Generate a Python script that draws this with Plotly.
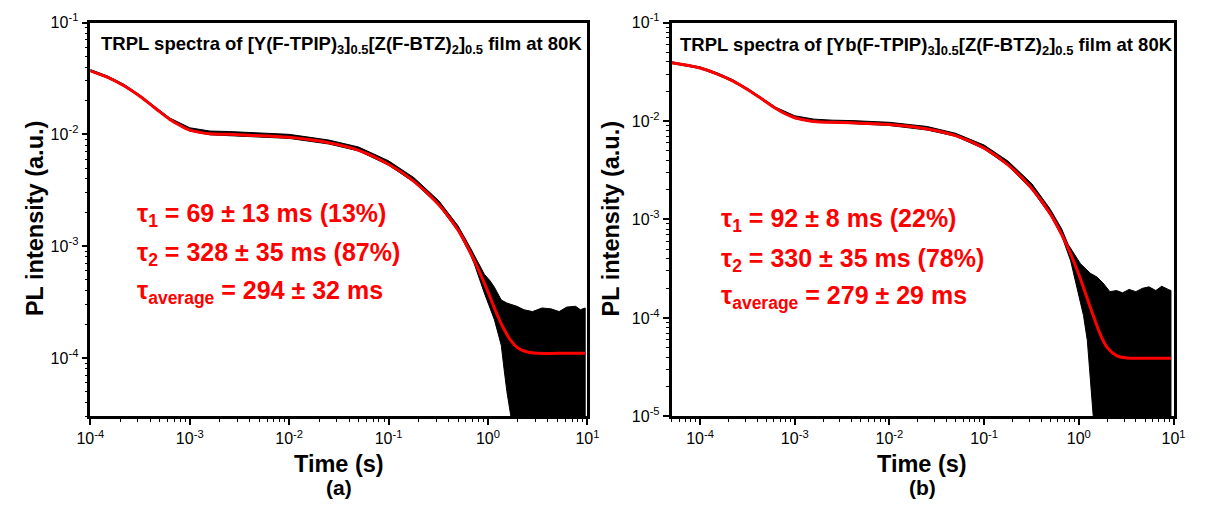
import plotly.graph_objects as go
import math

# ---------------- Panel (a) ----------------
fit_t_a = [1e-4, 1.5e-4, 2.2e-4, 3.2e-4, 4.5e-4, 6.3e-4, 8e-4, 1e-3, 1.3e-3, 1.6e-3, 2.5e-3,
           4e-3, 1e-2, 2.5e-2, 5e-2, 0.1, 0.18, 0.32, 0.5, 0.66, 0.8, 1.0, 1.2, 1.4, 1.7,
           2.0, 2.5, 3.2, 5.0, 9.5]
fit_y_a = [0.037, 0.0323, 0.0271, 0.0217, 0.0171, 0.0136, 0.0120, 0.0109, 0.01036, 0.0101,
           0.0100, 0.0098, 0.0094, 0.0084, 0.0072, 0.0054, 0.0038, 0.00235, 0.00139, 8.9e-4,
           6.2e-4, 3.9e-4, 2.6e-4, 1.92e-4, 1.43e-4, 1.23e-4, 1.13e-4, 1.10e-4, 1.10e-4, 1.10e-4]

data_up_t_a = [1e-4, 1.5e-4, 2.2e-4, 3.2e-4, 4.5e-4, 6.3e-4, 1e-3, 1.6e-3, 2.5e-3, 4e-3,
               1e-2, 2.5e-2, 5e-2, 0.1, 0.18, 0.32, 0.5, 0.66, 0.8, 0.92, 1.05, 1.16, 1.36,
               1.55, 1.95, 2.3, 2.8, 3.5, 4.3, 5.2, 6.2, 7.6, 8.5, 9.5]
data_up_y_a = [0.0380, 0.0332, 0.0279, 0.0223, 0.0176, 0.0140, 0.01145, 0.01070, 0.0106,
               0.0104, 0.0100, 0.0089, 0.0077, 0.0058, 0.0041, 0.00255, 0.00152, 9.8e-4,
               7.2e-4, 5.6e-4, 4.9e-4, 4.3e-4, 3.3e-4, 3.1e-4, 2.9e-4, 2.7e-4, 2.6e-4,
               2.8e-4, 2.75e-4, 2.6e-4, 2.85e-4, 2.9e-4, 2.7e-4, 2.8e-4]
data_lo_t_a = [1e-4, 1.5e-4, 2.2e-4, 3.2e-4, 4.5e-4, 6.3e-4, 1e-3, 1.6e-3, 2.5e-3, 4e-3,
               1e-2, 2.5e-2, 5e-2, 0.1, 0.18, 0.32, 0.5, 0.66, 0.73, 0.92, 1.16, 1.36,
               1.45, 1.55, 1.7, 1.8, 9.5]
data_lo_y_a = [0.0365, 0.0318, 0.0267, 0.0214, 0.0168, 0.0134, 0.0107, 0.0099, 0.0098,
               0.0096, 0.0092, 0.0082, 0.0071, 0.0053, 0.00373, 0.00231, 0.00136, 8.5e-4,
               6.9e-4, 3.8e-4, 2.2e-4, 1.3e-4, 8e-5, 5e-5, 3e-5, 1e-6, 1e-6]

# ---------------- Panel (b) ----------------
fit_t_b = [5e-5, 1e-4, 1.5e-4, 2.2e-4, 3.2e-4, 4.5e-4, 6.3e-4, 8e-4, 1e-3, 1.3e-3, 1.6e-3,
           2.5e-3, 4e-3, 1e-2, 2.5e-2, 5e-2, 0.1, 0.18, 0.32, 0.5, 0.66, 0.8, 1.0, 1.2, 1.4,
           1.7, 2.0, 2.5, 3.2, 5.0, 9.4]
fit_y_b = [0.039, 0.0345, 0.0301, 0.0256, 0.0208, 0.0167, 0.0134, 0.0118, 0.0108, 0.0102,
           0.0099, 0.0097, 0.0096, 0.0092, 0.0083, 0.0071, 0.0053, 0.00357, 0.00205, 0.00114,
           7.0e-4, 4.73e-4, 2.76e-4, 1.68e-4, 1.10e-4, 6.7e-5, 5.0e-5, 4.15e-5, 3.93e-5,
           3.9e-5, 3.9e-5]

data_up_t_b = [5e-5, 1e-4, 1.5e-4, 2.2e-4, 3.2e-4, 4.5e-4, 6.3e-4, 1e-3, 1.6e-3, 2.5e-3,
               4e-3, 1e-2, 2.5e-2, 5e-2, 0.1, 0.18, 0.32, 0.5, 0.66, 0.77, 0.9, 1.04, 1.32,
               1.56, 1.8, 2.13, 2.5, 2.9, 3.4, 4.0, 4.7, 5.5, 6.5, 7.5, 8.9, 9.4]
data_up_y_b = [0.0400, 0.0355, 0.0310, 0.0264, 0.0214, 0.0172, 0.0138, 0.0113, 0.01045,
               0.0102, 0.0101, 0.0097, 0.0088, 0.0075, 0.0057, 0.0039, 0.0023, 0.00127,
               8.0e-4, 5.6e-4, 4.4e-4, 3.56e-4, 2.85e-4, 2.6e-4, 2.27e-4, 1.85e-4, 1.9e-4,
               1.8e-4, 1.95e-4, 1.85e-4, 2.0e-4, 2.07e-4, 1.9e-4, 2.1e-4, 1.94e-4, 1.9e-4]
data_lo_t_b = [5e-5, 1e-4, 1.5e-4, 2.2e-4, 3.2e-4, 4.5e-4, 6.3e-4, 1e-3, 1.6e-3, 2.5e-3,
               4e-3, 1e-2, 2.5e-2, 5e-2, 0.1, 0.18, 0.32, 0.5, 0.66, 0.82, 0.97, 1.12, 1.23,
               1.32, 1.42, 1.5, 9.4]
data_lo_y_b = [0.0384, 0.0340, 0.0296, 0.0252, 0.0205, 0.0164, 0.0132, 0.0106, 0.0097,
               0.0095, 0.0094, 0.0090, 0.0081, 0.0070, 0.0052, 0.0035, 0.0020, 0.0011,
               6.8e-4, 3.8e-4, 1.94e-4, 1.06e-4, 5.9e-5, 2.4e-5, 1e-5, 1e-6, 1e-6]

titles = ["<b>TRPL spectra of [Y(F-TPIP)<sub>3</sub>]<sub>0.5</sub>[Z(F-BTZ)<sub>2</sub>]<sub>0.5</sub> film at 80K</b>",
          "<b>TRPL spectra of [Yb(F-TPIP)<sub>3</sub>]<sub>0.5</sub>[Z(F-BTZ)<sub>2</sub>]<sub>0.5</sub> film at 80K</b>"]
tau_text_a = ["τ<sub>1</sub> = 69 ± 13 ms (13%)", "τ<sub>2</sub> = 328 ± 35 ms (87%)",
              "τ<sub>average</sub> = 294 ± 32 ms"]
tau_text_b = ["τ<sub>1</sub> = 92 ± 8 ms (22%)", "τ<sub>2</sub> = 330 ± 35 ms (78%)",
              "τ<sub>average</sub> = 279 ± 29 ms"]
panel_labels = ["<b>(a)</b>", "<b>(b)</b>"]

FONT = "Liberation Sans, Arial, sans-serif"
W, H = 1209, 510

def px(x):
    return x / W
def py(y):
    return 1 - y / H

fig = go.Figure()

def band(up_t, up_y, lo_t, lo_y, xa, ya):
    fig.add_trace(go.Scatter(x=list(up_t) + list(lo_t)[::-1], y=list(up_y) + list(lo_y)[::-1],
                             mode="lines", fill="toself", fillcolor="black",
                             line=dict(color="black", width=1), xaxis=xa, yaxis=ya,
                             hoverinfo="skip", showlegend=False))

band(data_up_t_a, data_up_y_a, data_lo_t_a, data_lo_y_a, "x", "y")
fig.add_trace(go.Scatter(x=fit_t_a, y=fit_y_a, mode="lines",
                         line=dict(color="#ff0000", width=3, shape="spline", smoothing=1.0),
                         xaxis="x", yaxis="y", showlegend=False))
band(data_up_t_b, data_up_y_b, data_lo_t_b, data_lo_y_b, "x2", "y2")
fig.add_trace(go.Scatter(x=fit_t_b, y=fit_y_b, mode="lines",
                         line=dict(color="#ff0000", width=3, shape="spline", smoothing=1.0),
                         xaxis="x2", yaxis="y2", showlegend=False))

def sup(e):
    return "10<sup>%d</sup>" % e

common = dict(type="log", showgrid=False, zeroline=False, showline=True, linecolor="black",
              linewidth=2.5, mirror=True, ticks="outside", ticklen=6, tickwidth=1.5,
              tickcolor="black", tickfont=dict(family=FONT, size=16, color="black"),
              minor=dict(ticks="outside", ticklen=3, tickwidth=1.2, tickcolor="black",
                         dtick="D1", showgrid=False))

xt = [1e-4, 1e-3, 1e-2, 1e-1, 1, 10]
xtt = [sup(e) for e in range(-4, 2)]
yt_a = [1e-4, 1e-3, 1e-2, 1e-1]
ytt_a = [sup(e) for e in range(-4, 0)]
yt_b = [1e-5, 1e-4, 1e-3, 1e-2, 1e-1]
ytt_b = [sup(e) for e in range(-5, 0)]

yb, yt = py(422), py(12)
fig.update_layout(
    width=W, height=H, margin=dict(l=0, r=0, t=0, b=0),
    paper_bgcolor="white", plot_bgcolor="white", showlegend=False,
    xaxis=dict(common, range=[-4, 1], domain=[px(78), px(586)], anchor="y",
               tickmode="array", tickvals=xt, ticktext=xtt),
    yaxis=dict(common, range=[math.log10(3e-5), -1], domain=[yb, yt], anchor="x",
               tickmode="array", tickvals=yt_a, ticktext=ytt_a),
    xaxis2=dict(common, range=[math.log10(5e-5), 1], domain=[px(672), px(1185)], anchor="y2",
                tickmode="array", tickvals=xt, ticktext=xtt),
    yaxis2=dict(common, range=[-5, -1], domain=[yb, yt], anchor="x2",
                tickmode="array", tickvals=yt_b, ticktext=ytt_b),
)

ann = []
ann.append(dict(x=px(87), y=py(35), text=titles[0], xanchor="left", yanchor="middle",
                font=dict(family=FONT, size=18.5, color="black")))
ann.append(dict(x=px(679), y=py(36), text=titles[1], xanchor="left", yanchor="middle",
                font=dict(family=FONT, size=18.5, color="black")))
for txt, yy in zip(tau_text_a, [212, 253, 292]):
    ann.append(dict(x=px(124), y=py(yy), text="<b>" + txt + "</b>", xanchor="left", yanchor="middle",
                    font=dict(family=FONT, size=25, color="#ff0000")))
for txt, yy in zip(tau_text_b, [218, 259, 298]):
    ann.append(dict(x=px(721), y=py(yy), text="<b>" + txt + "</b>", xanchor="left", yanchor="middle",
                    font=dict(family=FONT, size=25, color="#ff0000")))
for cx, lab in zip([332, 928], panel_labels):
    ann.append(dict(x=px(cx), y=py(471), text="<b>Time (s)</b>", xanchor="center", yanchor="middle",
                    font=dict(family=FONT, size=23.5, color="black")))
    ann.append(dict(x=px(cx), y=py(496), text=lab, xanchor="center", yanchor="middle",
                    font=dict(family=FONT, size=21, color="black")))
for cx in [21, 610]:
    ann.append(dict(x=px(cx), y=py(216), text="<b>PL intensity (a.u.)</b>", textangle=-90,
                    xanchor="center", yanchor="middle",
                    font=dict(family=FONT, size=23.5, color="black")))
for a in ann:
    a.update(xref="paper", yref="paper", showarrow=False)
fig.update_layout(annotations=ann)

fig.write_html("out.html", config={"displayModeBar": False},
               post_script="document.body.style.margin='0px';")
